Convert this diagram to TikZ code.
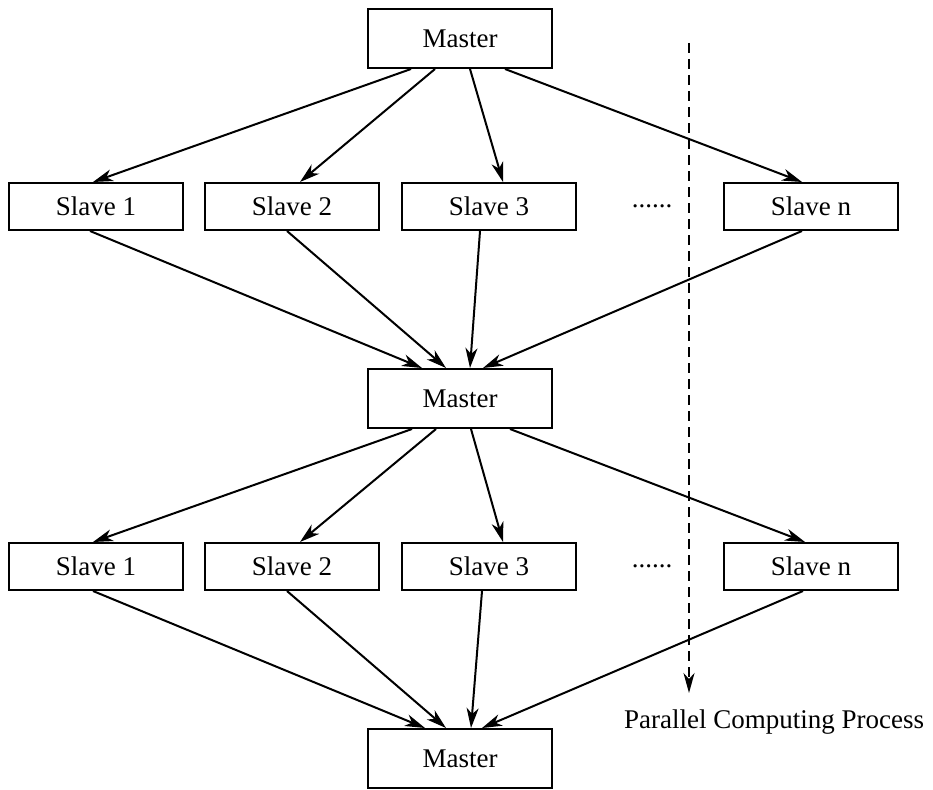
\documentclass[tikz,border=0pt]{standalone}
\usepackage{fontspec}
\setmainfont{Liberation Serif}
\usetikzlibrary{arrows.meta}

\begin{document}
\begin{tikzpicture}[x=1pt,y=-1pt,
  font=\fontsize{27}{32}\selectfont,
  masterbox/.style={draw, line width=2pt, minimum width=184pt, minimum height=59pt, inner sep=0pt},
  slavebox/.style={draw, line width=2pt, minimum width=174pt, minimum height=47pt, inner sep=0pt},
  flow/.style={line width=2pt, -{Stealth[length=20pt, width=12pt, inset=6pt]}},
  timeline/.style={line width=1.6pt, dash pattern=on 10pt off 6pt, -{Stealth[length=20pt, width=11pt, inset=6pt]}}]

  \useasboundingbox (0,0) rectangle (933,789);

  % master nodes
  \node[masterbox] (m1) at (460,38.5) {Master};
  \node[masterbox] (m2) at (460,398.5) {Master};
  \node[masterbox] (m3) at (460,758.5) {Master};

  % first slave row
  \node[slavebox] (a1) at (96,206.5)  {Slave 1};
  \node[slavebox] (a2) at (292,206.5) {Slave 2};
  \node[slavebox] (a3) at (489,206.5) {Slave 3};
  \node[slavebox] (an) at (811,206.5) {Slave n};
  \node[anchor=base, inner sep=0pt] (adots) at (652,207) {......};

  % second slave row
  \node[slavebox] (b1) at (96,566.5)  {Slave 1};
  \node[slavebox] (b2) at (292,566.5) {Slave 2};
  \node[slavebox] (b3) at (489,566.5) {Slave 3};
  \node[slavebox] (bn) at (811,566.5) {Slave n};
  \node[anchor=base, inner sep=0pt] (bdots) at (652,567) {......};

  % master -> first slaves
  \draw[flow] ([xshift=-49pt]m1.south) -- ([xshift=-3pt]a1.north);
  \draw[flow] ([xshift=-25pt]m1.south) -- ([xshift=8pt]a2.north);
  \draw[flow] ([xshift=10pt]m1.south)  -- ([xshift=14pt]a3.north);
  \draw[flow] ([xshift=45pt]m1.south)  -- ([xshift=-9pt]an.north);

  % first slaves -> master
  \draw[flow] ([xshift=-6pt]a1.south) -- ([xshift=-38pt]m2.north);
  \draw[flow] ([xshift=-5pt]a2.south) -- ([xshift=-14pt]m2.north);
  \draw[flow] ([xshift=-9pt]a3.south) -- ([xshift=10pt]m2.north);
  \draw[flow] ([xshift=-9pt]an.south) -- ([xshift=23pt]m2.north);

  % master -> second slaves
  \draw[flow] ([xshift=-48pt]m2.south) -- ([xshift=-3pt]b1.north);
  \draw[flow] ([xshift=-24pt]m2.south) -- ([xshift=8pt]b2.north);
  \draw[flow] ([xshift=11pt]m2.south)  -- ([xshift=14pt]b3.north);
  \draw[flow] ([xshift=50pt]m2.south)  -- ([xshift=-6pt]bn.north);

  % second slaves -> master
  \draw[flow] ([xshift=-3pt]b1.south) -- ([xshift=-35pt]m3.north);
  \draw[flow] ([xshift=-5pt]b2.south) -- ([xshift=-14pt]m3.north);
  \draw[flow] ([xshift=-7pt]b3.south) -- ([xshift=11pt]m3.north);
  \draw[flow] ([xshift=-8pt]bn.south) -- ([xshift=22pt]m3.north);

  % time axis of the parallel process
  \coordinate (tstart) at (689,43);
  \coordinate (tend) at (689,693);
  \draw[timeline] (tstart) -- (tend);
  \node[anchor=base, inner sep=0pt] (tlabel) at (774,728) {Parallel Computing Process};
\end{tikzpicture}
\end{document}
